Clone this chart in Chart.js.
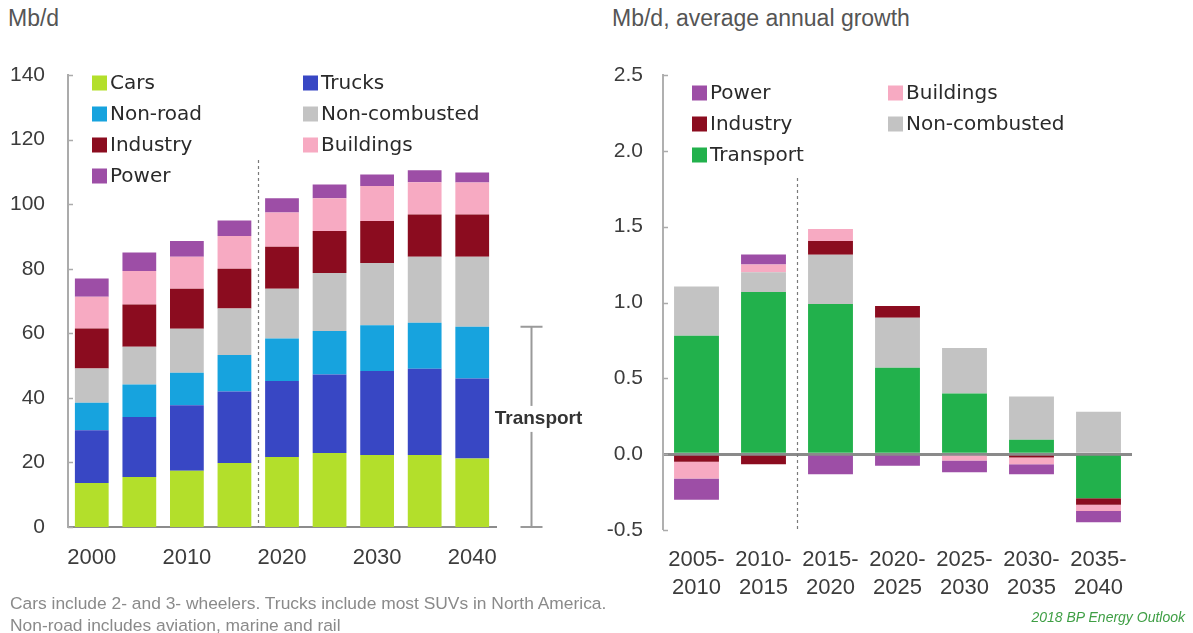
<!DOCTYPE html>
<html>
<head>
<meta charset="utf-8">
<script src="https://cdn.jsdelivr.net/npm/chart.js@4.4.1/dist/chart.umd.min.js"></script>
<style>
  html, body { margin: 0; padding: 0; background: #fff; }
  body { width: 1193px; height: 633px; overflow: hidden; position: relative;
         font-family: "Liberation Sans", Arial, sans-serif; }
  #demand { position: absolute; left: 0; top: 0; }
  #growth { position: absolute; left: 590px; top: 0; }
  .title { position: absolute; top: 5px; font-size: 23px; color: #555; }
  .note { position: absolute; left: 10px; top: 592px; font-size: 17.4px; color: #8a8a8a; line-height: 22px; }
  .src { position: absolute; right: 8px; top: 609px; font-size: 14px; font-style: italic; color: #3f9f45; }
</style>
</head>
<body>
<div class="title" style="left:8px">Mb/d</div>
<div class="title" style="left:612px">Mb/d, average annual growth</div>
<canvas id="demand" width="590" height="595"></canvas>
<canvas id="growth" width="603" height="612"></canvas>
<div class="note">Cars include 2- and 3- wheelers. Trucks include most SUVs in North America.<br>Non-road includes aviation, marine and rail</div>
<div class="src">2018 BP Energy Outlook</div>

<script>
// ---- Oil demand by sector, Mb/d ----
const years = ['2000', '2005', '2010', '2016', '2020', '2025', '2030', '2035', '2040'];
const labelledYears = ['2000', '2010', '2020', '2030', '2040'];
const cars         = [13.6, 15.5, 17.4, 19.8, 21.7, 22.9, 22.3, 22.3, 21.2];
const trucks       = [16.4, 18.6, 20.3, 22.2, 23.5, 24.3, 26.0, 26.7, 24.8];
const nonRoad      = [8.5, 10.0, 10.1, 11.3, 13.2, 13.5, 14.2, 14.3, 16.0];
const nonCombusted = [10.6, 11.7, 13.6, 14.4, 15.4, 18.0, 19.3, 20.4, 21.7];
const industry     = [12.4, 13.1, 12.4, 12.3, 13.0, 13.0, 13.0, 13.1, 13.1];
const buildings    = [9.8, 10.4, 9.9, 10.1, 10.6, 10.1, 10.8, 10.0, 9.9];
const power        = [5.7, 5.7, 4.9, 4.8, 4.4, 4.3, 3.6, 3.7, 3.1];

// ---- Average annual growth by sector, Mb/d ----
const periods = [['2005-', '2010'], ['2010-', '2015'], ['2015-', '2020'], ['2020-', '2025'],
                 ['2025-', '2030'], ['2030-', '2035'], ['2035-', '2040']];
const transportGrowth    = [0.78, 1.07, 0.99, 0.57, 0.40, 0.095, -0.29];
const nonCombustedGrowth = [0.325, 0.13, 0.325, 0.33, 0.30, 0.285, 0.28];
const industryGrowth     = [-0.05, -0.066, 0.09, 0.077, 0, -0.022, -0.044];
const buildingsGrowth    = [-0.11, 0.05, 0.08, 0, -0.042, -0.044, -0.04];
const powerGrowth        = [-0.14, 0.066, -0.132, -0.077, -0.077, -0.066, -0.075];

const COLORS = {
  cars: '#b3df2b', trucks: '#3847c4', nonRoad: '#17a3de', nonCombusted: '#c3c3c3',
  industry: '#8b0c1f', buildings: '#f7aac2', power: '#9d4ea6', transport: '#22b14c'
};
const FONT = '"Liberation Sans", Arial, sans-serif';
const LEGEND_FONT = '20px "DejaVu Sans", sans-serif';
const TEXT = '#3c3c3c';

// Two-column legend drawn inside the plot area
const gridLegend = {
  id: 'gridLegend',
  afterDraw(chart, args, o) {
    const ctx = chart.ctx;
    const items = o.reverse ? chart.data.datasets.slice().reverse() : chart.data.datasets;
    ctx.save();
    ctx.font = LEGEND_FONT;
    ctx.textBaseline = 'middle';
    items.forEach((ds, i) => {
      const bx = o.cols[i % 2];
      const cy = o.top + Math.floor(i / 2) * o.rowGap;
      ctx.fillStyle = ds.backgroundColor;
      ctx.fillRect(bx, cy - o.box / 2, o.box, o.box);
      ctx.fillStyle = '#2a2a2a';
      ctx.fillText(ds.label, bx + o.box + 3, cy + 1);
    });
    ctx.restore();
  }
};

// Dotted divider between history and projections
const divider = {
  id: 'divider',
  afterDatasetsDraw(chart, args, o) {
    const x = chart.scales.x;
    const px = (x.getPixelForValue(o.after) + x.getPixelForValue(o.after + 1)) / 2;
    const ctx = chart.ctx;
    ctx.save();
    ctx.strokeStyle = '#7a7a7a';
    ctx.lineWidth = 1.2;
    ctx.setLineDash([3, 3]);
    ctx.beginPath();
    ctx.moveTo(Math.round(px) + 0.5, o.top);
    ctx.lineTo(Math.round(px) + 0.5, chart.chartArea.bottom);
    ctx.stroke();
    ctx.restore();
  }
};

// Small tick marks on the inner side of the value axis
const innerTicks = {
  id: 'innerTicks',
  afterDraw(chart) {
    const y = chart.scales.y;
    const ctx = chart.ctx;
    ctx.save();
    ctx.strokeStyle = '#ababab';
    ctx.lineWidth = 1.5;
    y.ticks.forEach(t => {
      const py = Math.round(y.getPixelForValue(t.value)) + 0.5;
      ctx.beginPath();
      ctx.moveTo(chart.chartArea.left, py);
      ctx.lineTo(chart.chartArea.left + 5, py);
      ctx.stroke();
    });
    ctx.restore();
  }
};

// Bracket spanning transport demand in the final year
const transportBracket = {
  id: 'transportBracket',
  afterDraw(chart) {
    const last = years.length - 1;
    const total = cars[last] + trucks[last] + nonRoad[last];
    const y = chart.scales.y;
    const top = y.getPixelForValue(total);
    const bottom = y.getPixelForValue(0);
    const x = chart.chartArea.right + 35.5;
    const ctx = chart.ctx;
    ctx.save();
    ctx.strokeStyle = '#9a9a9a';
    ctx.lineWidth = 2;
    ctx.beginPath();
    ctx.moveTo(x, top); ctx.lineTo(x, bottom);
    ctx.moveTo(x - 11, top); ctx.lineTo(x + 11, top);
    ctx.moveTo(x - 11, bottom); ctx.lineTo(x + 11, bottom);
    ctx.stroke();
    const ty = y.getPixelForValue(total * 0.54);
    ctx.font = 'bold 19px ' + FONT;
    const w = ctx.measureText('Transport').width;
    ctx.fillStyle = '#fff';
    ctx.fillRect(x + 7 - w / 2 - 2, ty - 13, w + 4, 26);
    ctx.fillStyle = '#333';
    ctx.textAlign = 'center';
    ctx.textBaseline = 'middle';
    ctx.fillText('Transport', x + 7, ty);
    ctx.restore();
  }
};

function bar(label, data, color) {
  return { label, data, backgroundColor: color, borderWidth: 0 };
}

new Chart(document.getElementById('demand'), {
  type: 'bar',
  data: {
    labels: years,
    datasets: [
      bar('Cars', cars, COLORS.cars),
      bar('Trucks', trucks, COLORS.trucks),
      bar('Non-road', nonRoad, COLORS.nonRoad),
      bar('Non-combusted', nonCombusted, COLORS.nonCombusted),
      bar('Industry', industry, COLORS.industry),
      bar('Buildings', buildings, COLORS.buildings),
      bar('Power', power, COLORS.power)
    ]
  },
  options: {
    responsive: false,
    devicePixelRatio: 1,
    animation: false,
    layout: { padding: { top: 75, right: 94, left: 0, bottom: 0 } },
    datasets: { bar: { categoryPercentage: 1, barPercentage: 0.71 } },
    plugins: {
      legend: { display: false },
      tooltip: { enabled: false },
      gridLegend: { cols: [92, 303], top: 83, rowGap: 31, box: 15 },
      divider: { after: 3, top: 160 }
    },
    scales: {
      x: {
        stacked: true,
        grid: { display: false, drawTicks: false },
        border: { display: true, color: '#8c8c8c', width: 2 },
        ticks: {
          autoSkip: false, maxRotation: 0, padding: 18, color: TEXT,
          font: { family: FONT, size: 22 },
          callback(v) { const l = this.getLabelForValue(v); return labelledYears.includes(l) ? l : ''; }
        },
        afterFit(s) { s.height = 595 - 527; }
      },
      y: {
        stacked: true, min: 0, max: 140,
        grid: { display: false, drawTicks: false },
        border: { display: true, color: '#ababab', width: 2 },
        ticks: { stepSize: 20, padding: 23, color: TEXT, font: { family: FONT, size: 21 } },
        afterFit(s) { s.width = 68; }
      }
    }
  },
  plugins: [gridLegend, divider, innerTicks, transportBracket]
});

new Chart(document.getElementById('growth'), {
  type: 'bar',
  data: {
    labels: periods,
    datasets: [
      bar('Transport', transportGrowth, COLORS.transport),
      bar('Non-combusted', nonCombustedGrowth, COLORS.nonCombusted),
      bar('Industry', industryGrowth, COLORS.industry),
      bar('Buildings', buildingsGrowth, COLORS.buildings),
      bar('Power', powerGrowth, COLORS.power)
    ]
  },
  options: {
    responsive: false,
    devicePixelRatio: 1,
    animation: false,
    layout: { padding: { top: 75, right: 61, left: 0, bottom: 0 } },
    datasets: { bar: { categoryPercentage: 1, barPercentage: 0.67 } },
    plugins: {
      legend: { display: false },
      tooltip: { enabled: false },
      gridLegend: { cols: [102, 298], top: 93, rowGap: 31, box: 15, reverse: true },
      divider: { after: 1, top: 178 }
    },
    scales: {
      x: {
        stacked: true,
        grid: { display: false, drawTicks: false },
        border: { display: false },
        ticks: {
          autoSkip: false, maxRotation: 0, padding: 16, color: TEXT,
          font: { family: FONT, size: 22, lineHeight: 1.27 }
        },
        afterFit(s) { s.height = 612 - 530; }
      },
      y: {
        stacked: true, min: -0.5, max: 2.5, z: 1,
        grid: {
          drawTicks: false,
          color: c => (c.tick && c.tick.value === 0 ? '#8a8a8a' : 'rgba(0,0,0,0)'),
          lineWidth: c => (c.tick && c.tick.value === 0 ? 3 : 0)
        },
        border: { display: true, color: '#b0b0b0', width: 2 },
        ticks: {
          stepSize: 0.5, padding: 20, color: TEXT, font: { family: FONT, size: 21 },
          callback: v => Number(v).toFixed(1)
        },
        afterFit(s) { s.width = 73; }
      }
    }
  },
  plugins: [gridLegend, divider, innerTicks]
});
</script>
</body>
</html>
